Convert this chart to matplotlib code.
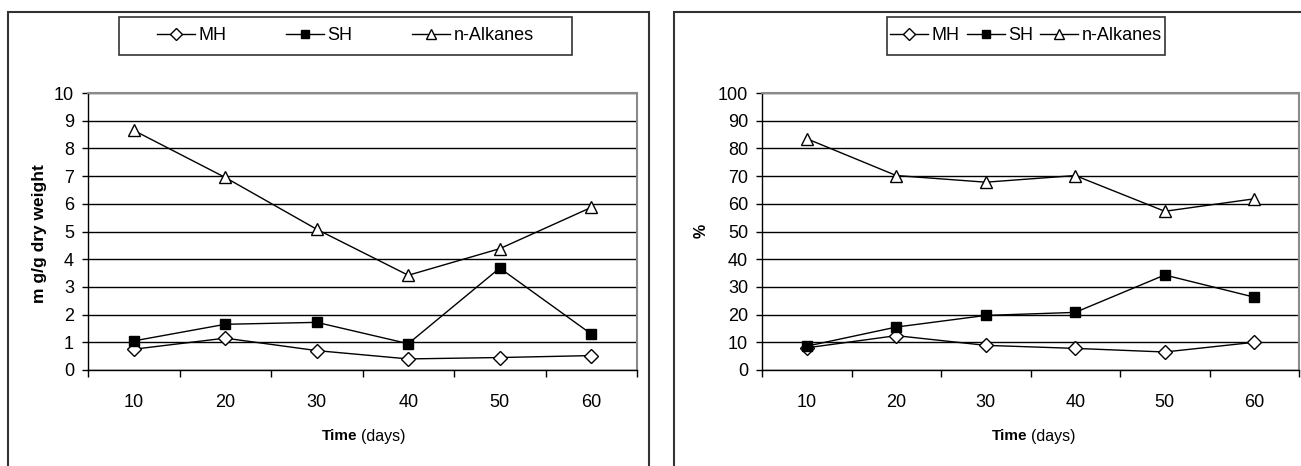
import matplotlib
matplotlib.use("Agg")
import matplotlib.pyplot as plt
from matplotlib.lines import Line2D
from matplotlib.patches import Rectangle
from matplotlib.ticker import FixedLocator, NullFormatter

plt.rcParams['font.family'] = ['Liberation Sans', 'DejaVu Sans']

# data
days = ['10', '20', '30', '40', '50', '60']

mh_mg = [0.75, 1.15, 0.70, 0.40, 0.45, 0.52]
sh_mg = [1.05, 1.65, 1.72, 0.95, 3.68, 1.30]
alk_mg = [8.65, 6.95, 5.08, 3.42, 4.38, 5.87]

mh_pct = [8.0, 12.4, 8.9, 7.8, 6.5, 10.0]
sh_pct = [8.6, 15.5, 19.7, 20.8, 34.3, 26.3]
alk_pct = [83.5, 70.2, 67.8, 70.2, 57.3, 61.8]

series_names = ['MH', 'SH', 'n-Alkanes']

W, H = 1301, 466


def fx(px):
    return px / W


def fy(py):
    return 1 - py / H


STYLES = [
    dict(marker='D', ms=7.0, mfc='white', mec='black', mew=1.0),
    dict(marker='s', ms=6.5, mfc='black', mec='black', mew=1.0),
    dict(marker='^', ms=9.0, mfc='white', mec='black', mew=1.0),
]


def draw_panel(ax, values, ymax, ystep):
    x = list(range(len(days)))
    for vals, st in zip(values, STYLES):
        ax.plot(x, vals, color='black', lw=1.0, zorder=3, clip_on=False, **st)

    ax.set_xlim(-0.5, len(days) - 0.5)
    ax.set_ylim(0, ymax)
    ax.set_yticks(range(0, ymax + 1, ystep))
    ax.set_xticks(x)
    ax.set_xticklabels(days)
    ax.xaxis.set_minor_locator(FixedLocator([i - 0.5 for i in range(len(days) + 1)]))
    ax.xaxis.set_minor_formatter(NullFormatter())
    ax.tick_params(axis='x', which='major', length=0, pad=17, labelsize=13)
    ax.tick_params(axis='x', which='minor', length=5, width=1, direction='out')
    ax.tick_params(axis='y', length=4, width=1, direction='out', pad=6, labelsize=13)

    ax.yaxis.grid(True, color='black', lw=1.0)
    ax.set_axisbelow(True)
    for side in ['top', 'right']:
        ax.spines[side].set_color('#8a8a8a')
        ax.spines[side].set_linewidth(1.5)
    for side in ['left', 'bottom']:
        ax.spines[side].set_color('black')
        ax.spines[side].set_linewidth(1.0)


fig = plt.figure(figsize=(W / 100, H / 100), dpi=100)

# outer chart frames
fig.patches.append(Rectangle((fx(8), fy(480)), fx(649) - fx(8), fy(12) - fy(480),
                             transform=fig.transFigure, fill=False,
                             edgecolor='#333333', lw=1.5))
fig.patches.append(Rectangle((fx(674), fy(480)), fx(1320) - fx(674), fy(12) - fy(480),
                             transform=fig.transFigure, fill=False,
                             edgecolor='#333333', lw=1.5))

ax1 = fig.add_axes([fx(88), fy(370), fx(637) - fx(88), fy(93) - fy(370)])
ax2 = fig.add_axes([fx(762), fy(370), fx(1299) - fx(762), fy(93) - fy(370)])

draw_panel(ax1, [mh_mg, sh_mg, alk_mg], 10, 1)
draw_panel(ax2, [mh_pct, sh_pct, alk_pct], 100, 10)

# axis labels
fig.text(fx(40), fy(234), 'm g/g dry weight', rotation=90, ha='center', va='center',
         fontsize=12.5, fontweight='bold')
fig.text(fx(701), fy(231), '%', rotation=90, ha='center', va='center',
         fontsize=11.5, fontweight='bold')

for t_end, y in [(357, 436), (1027, 436)]:
    fig.text(fx(t_end), fy(y), 'Time', ha='right', va='center',
             fontsize=11, fontweight='bold')
    fig.text(fx(t_end + 4), fy(y), '(days)', ha='left', va='center', fontsize=11.5)

# legends
handles = [Line2D([], [], color='black', lw=1.0, **st) for st in STYLES]
for (x0, x1), colsp in [((119, 572), 3.3), ((887, 1165), 0.4)]:
    fig.patches.append(Rectangle((fx(x0), fy(55)), fx(x1) - fx(x0), fy(17) - fy(55),
                                 transform=fig.transFigure, fill=True, facecolor='white',
                                 edgecolor='#333333', lw=1.2))
    leg = fig.legend(handles, series_names, loc='center', ncol=3,
                     bbox_to_anchor=(fx((x0 + x1) / 2), fy(36)),
                     frameon=False, fontsize=13, handlelength=2.1, handletextpad=0.2,
                     columnspacing=colsp, markerscale=0.85, borderpad=0)

fig.savefig('out.png', dpi=100)
